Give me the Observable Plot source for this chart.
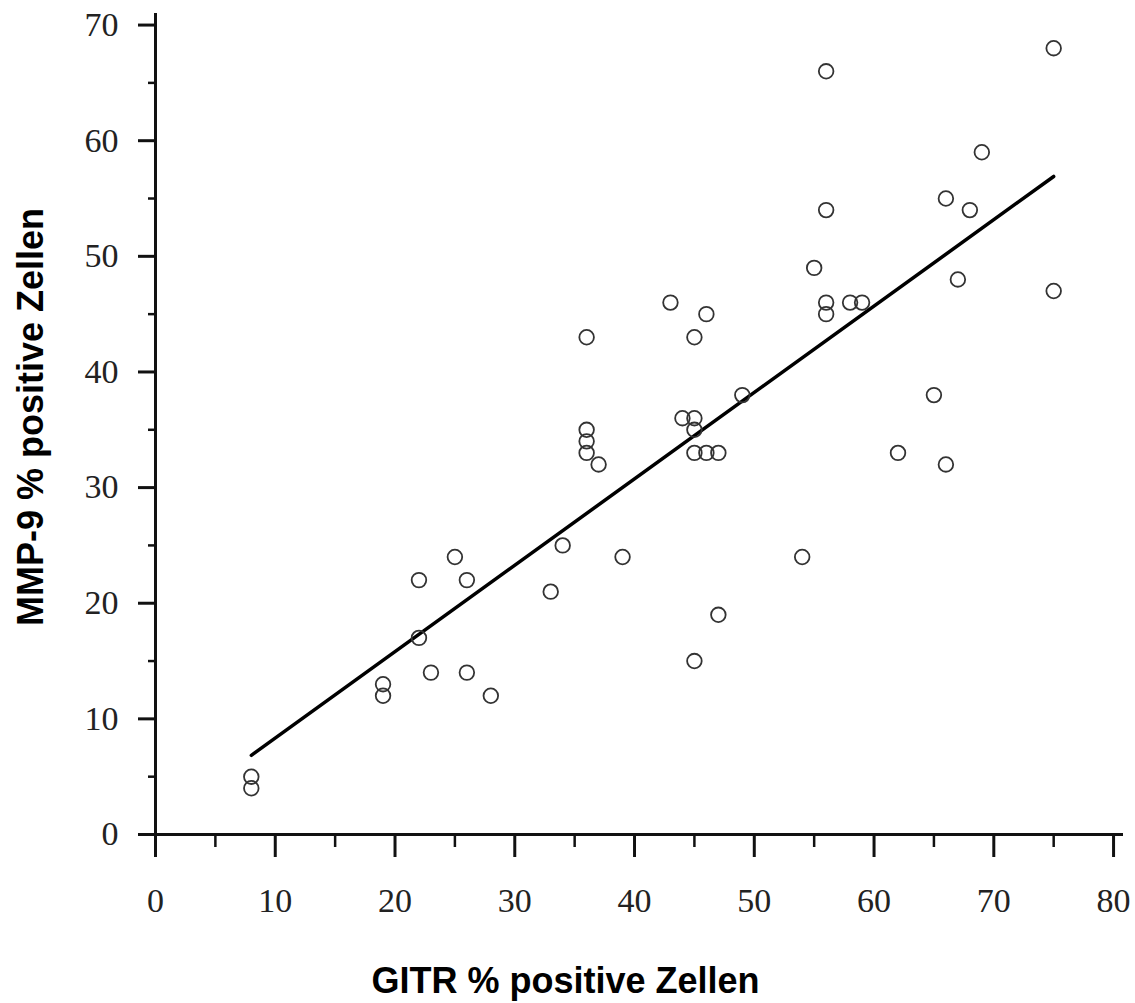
<!DOCTYPE html>
<html>
<head>
<meta charset="utf-8">
<script src="https://cdn.jsdelivr.net/npm/d3@7"></script>
<script src="https://cdn.jsdelivr.net/npm/@observablehq/plot@0.6"></script>
<style>
  html, body { margin: 0; padding: 0; background: #fff; }
</style>
</head>
<body>
<div id="chart"></div>
<script>
// GITR % positive cells (x) and MMP-9 % positive cells (y)
const gitr = [8, 8, 19, 19, 22, 22, 23, 25, 26, 26, 28, 33, 34, 36, 36, 36, 36, 37, 39, 43, 44, 45, 45, 45, 45, 46, 46, 47, 45, 47, 49, 54, 55, 56, 56, 56, 56, 58, 59, 62, 65, 66, 66, 67, 68, 69, 75, 75];
const mmp9 = [5, 4, 13, 12, 22, 17, 14, 24, 22, 14, 12, 21, 25, 43, 35, 34, 33, 32, 24, 46, 36, 43, 36, 35, 33, 45, 33, 33, 15, 19, 38, 24, 49, 66, 54, 46, 45, 46, 46, 33, 38, 32, 55, 48, 54, 59, 68, 47];

const xTicks = [0, 10, 20, 30, 40, 50, 60, 70, 80];
const xMinorTicks = [5, 15, 25, 35, 45, 55, 65, 75];
const yTicks = [0, 10, 20, 30, 40, 50, 60, 70];
const yMinorTicks = [5, 15, 25, 35, 45, 55, 65];

const xTitle = "GITR % positive Zellen";
const yTitle = "MMP-9 % positive Zellen";

const data = gitr.map((g, i) => ({ gitr: g, mmp9: mmp9[i] }));

const tickFont = "'Liberation Serif', 'DejaVu Serif', serif";
const titleFont = "'Liberation Sans', Arial, sans-serif";

const chart = Plot.plot({
  width: 1135,
  height: 1003,
  marginLeft: 155,
  marginRight: 12,
  marginTop: 13,
  marginBottom: 169,
  x: { domain: [0, 80.83] },
  y: { domain: [0, 71] },
  style: { background: "#fff", color: "#222", fontFamily: tickFont, fontSize: "34px" },
  marks: [
    // minor ticks
    Plot.axisX({ ticks: xMinorTicks, tickSize: 13, strokeWidth: 2.5, stroke: "#111", tickFormat: () => "", label: null }),
    Plot.axisY({ ticks: yMinorTicks, tickSize: 7, strokeWidth: 2.5, stroke: "#111", tickFormat: () => "", label: null }),
    // major ticks with labels
    Plot.axisX({ ticks: xTicks, tickSize: 23, tickPadding: 30, strokeWidth: 3, stroke: "#111",
      fontSize: 34, fontFamily: tickFont, fill: "#222", label: null }),
    Plot.axisY({ ticks: yTicks, tickSize: 17, tickPadding: 20, strokeWidth: 3, stroke: "#111",
      fontSize: 34, fontFamily: tickFont, fill: "#222", label: null }),
    // axis lines
    Plot.ruleY([0], { stroke: "#111", strokeWidth: 3 }),
    Plot.ruleX([0], { stroke: "#111", strokeWidth: 3 }),
    // regression line
    Plot.linearRegressionY(data, { x: "gitr", y: "mmp9", ci: 0, stroke: "#000", strokeWidth: 3.5 }),
    // open circles
    Plot.dot(data, { x: "gitr", y: "mmp9", r: 7.3, stroke: "#333", strokeWidth: 1.8, fill: "none" }),
    // axis titles
    Plot.text([xTitle], { text: d => d, frameAnchor: "bottom", textAnchor: "middle", lineAnchor: "middle",
      dx: -74, dy: 147, fontFamily: titleFont, fontWeight: "bold", fontSize: 36, fill: "#000" }),
    Plot.text([yTitle], { text: d => d, frameAnchor: "left", textAnchor: "middle", lineAnchor: "middle",
      rotate: -90, dx: -124, dy: -7, fontFamily: titleFont, fontWeight: "bold", fontSize: 36, fill: "#000" })
  ]
});

document.getElementById("chart").appendChild(chart);
</script>
</body>
</html>
